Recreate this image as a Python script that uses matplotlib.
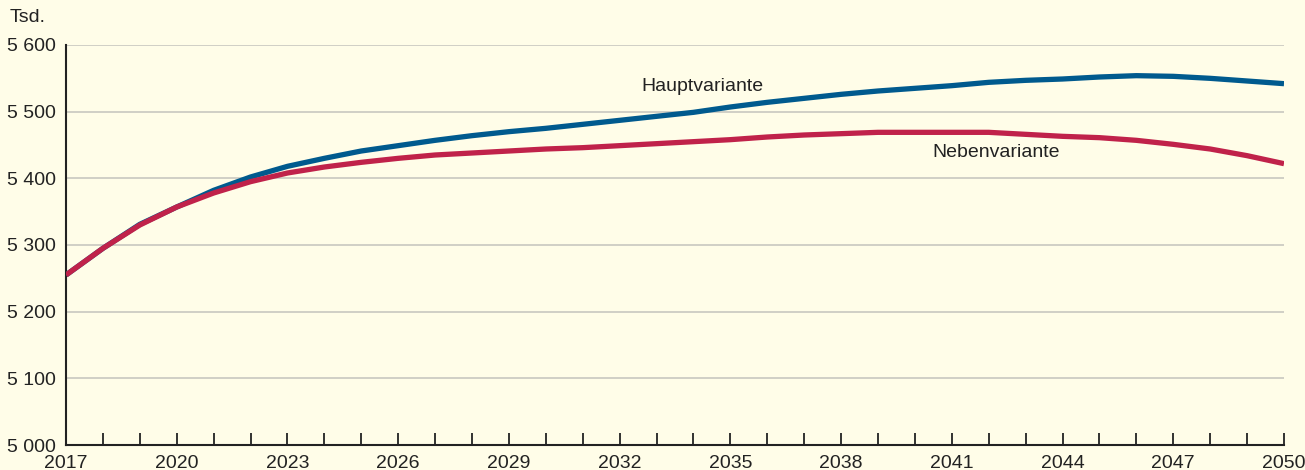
import matplotlib
matplotlib.use("Agg")
import matplotlib.pyplot as plt
from matplotlib.ticker import FuncFormatter, MultipleLocator

years = list(range(2017, 2051))
haupt = [5255, 5295, 5331, 5357, 5382, 5402, 5418, 5430, 5441, 5449,
         5457, 5464, 5470, 5475, 5481, 5487, 5493, 5499, 5507, 5514,
         5520, 5526, 5531, 5535, 5539, 5544, 5547, 5549, 5552, 5554,
         5553, 5550, 5546, 5542]
neben = [5255, 5295, 5330, 5357, 5378, 5395, 5408, 5417, 5424, 5430,
         5435, 5438, 5441, 5444, 5446, 5449, 5452, 5455, 5458, 5462,
         5465, 5467, 5469, 5469, 5469, 5469, 5466, 5463, 5461, 5457,
         5451, 5444, 5434, 5422]
y_ticks = [5000, 5100, 5200, 5300, 5400, 5500, 5600]
x_labels = list(range(2017, 2051, 3))

bg = "#fffde8"
blue = "#005a8e"
red = "#c0224a"
txt = "#222222"
fs = 14

plt.rcParams['font.family'] = ['Liberation Sans', 'DejaVu Sans']

fig = plt.figure(figsize=(13.05, 4.70), dpi=100, facecolor=bg)
ax = fig.add_axes([66/1305, 1-445/470, (1284-66)/1305, 400/470], facecolor=bg)

for yv in y_ticks[1:]:
    ax.axhline(yv, color="#c8c8c0", lw=1.2, zorder=1)

ax.plot(years, haupt, color=blue, lw=3.8, zorder=3, solid_capstyle='butt')
ax.plot(years, neben, color=red, lw=3.8, zorder=4, solid_capstyle='butt')

ax.set_xlim(2017, 2050)
ax.set_ylim(5000, 5600)
ax.set_yticks(y_ticks)
ax.yaxis.set_major_formatter(FuncFormatter(lambda v, p: f"{int(v):,}".replace(",", " ")))
ax.set_xticks(x_labels)
ax.xaxis.set_minor_locator(MultipleLocator(1))

for s in ["top", "right"]:
    ax.spines[s].set_visible(False)
for s in ["left", "bottom"]:
    ax.spines[s].set_color("#222222")
    ax.spines[s].set_linewidth(1.5)

ax.tick_params(axis='y', length=0, pad=7, labelsize=fs, labelcolor=txt)
for lbl in ax.get_yticklabels():
    pass
ax.tick_params(axis='x', which='both', direction='in', length=9, width=1.3,
               color="#222222", pad=7, labelsize=fs, labelcolor=txt)

ax.text(2032.6, 5537, "Hauptvariante", fontsize=fs, color=txt, ha='left', va='center')
ax.text(2042.2, 5439, "Nebenvariante", fontsize=fs, color=txt, ha='center', va='center')

fig.text(10/1305, 1-17/470, "Tsd.", fontsize=fs, color=txt, ha='left', va='center')

fig.savefig("out.png", dpi=100, facecolor=bg)
